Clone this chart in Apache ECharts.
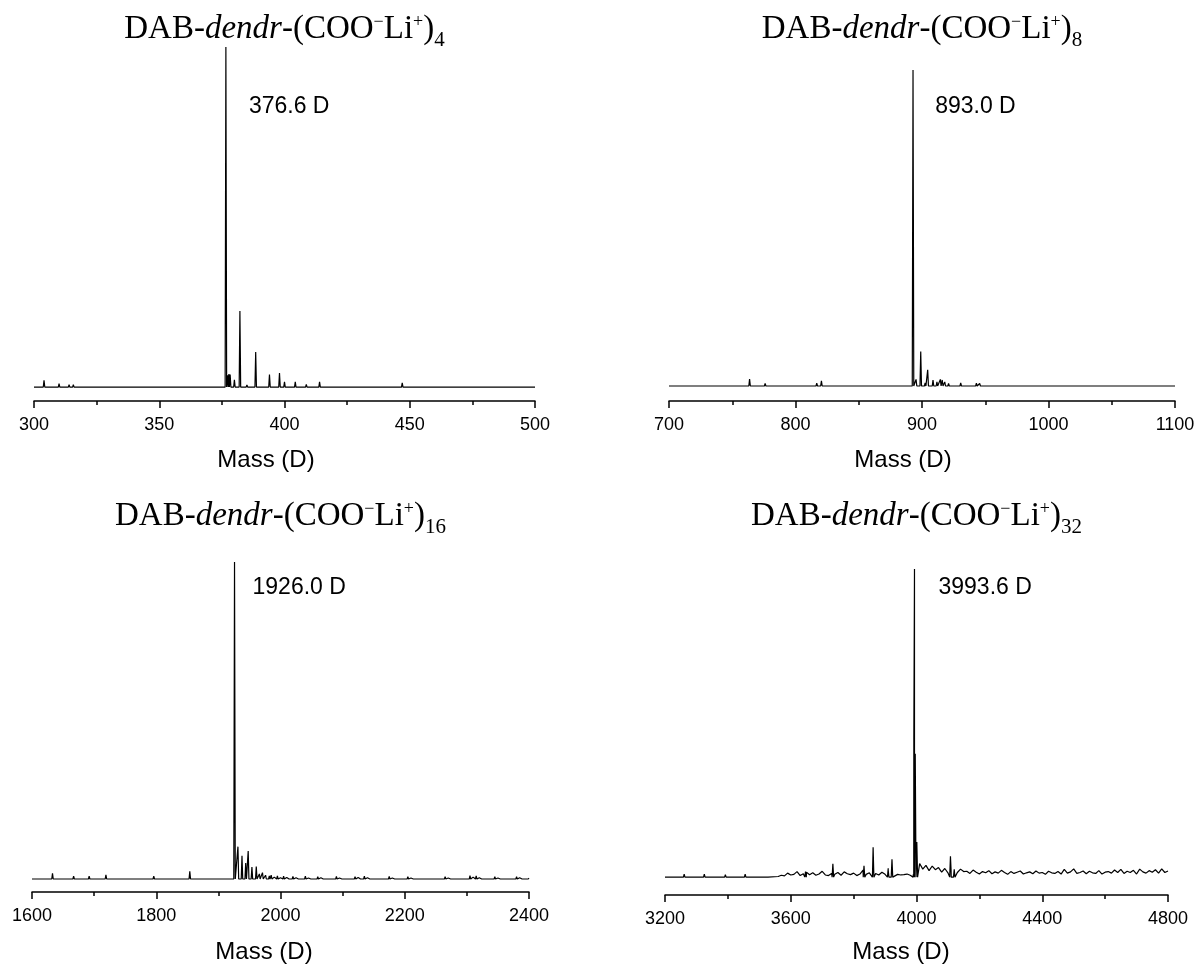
<!DOCTYPE html>
<html>
<head>
<meta charset="utf-8">
<script src="https://cdn.jsdelivr.net/npm/echarts@6/dist/echarts.min.js"></script>
<style>
html, body { margin: 0; padding: 0; background: #fff; }
#massSpectra { width: 1198px; height: 964px; }
</style>
</head>
<body>
<div id="massSpectra"></div>
<script>
// peaks, intensity in % of the base peak
const g4Mass = [304, 310, 314, 315.7, 320, 327, 336, 345, 352, 360, 366, 371, 376.6, 377.3, 377.8, 378.3, 380, 382.2, 385, 388.5, 391, 394, 398, 400, 404.3, 408.7, 410.3, 414, 420, 426, 432, 440, 447, 455, 465, 475, 490]
const g4Int = [2.0, 1.0, 0.7, 0.7, 0.5, 0.3, 0.3, 0.3, 0.4, 0.4, 0.3, 0.3, 100, 3.5, 3.8, 3.7, 2.1, 22.4, 0.6, 10.3, 0.4, 3.7, 4.1, 1.5, 1.5, 0.8, 0.5, 1.5, 0.4, 0.3, 0.4, 0.3, 1.2, 0.3, 0.3, 0.3, 0.3]

const g8Mass = [724, 740, 752, 763.7, 776, 790, 805, 816.8, 820.5, 835, 841, 860, 876, 889, 892.9, 895.3, 899, 902.5, 904.5, 908.7, 911.8, 914.5, 916, 918, 921, 930.6, 937, 943, 945.6, 960, 979, 1000, 1027, 1040, 1060, 1080, 1095]
const g8Int = [0.4, 0.3, 0.3, 2.2, 0.8, 0.3, 0.3, 0.9, 1.6, 0.4, 0.4, 0.3, 0.3, 0.3, 100, 2.1, 10.9, 1.0, 5.1, 1.9, 1.3, 2.1, 1.9, 1.3, 0.8, 1.0, 0.6, 0.9, 0.8, 0.3, 0.3, 0.3, 0.5, 0.4, 0.4, 0.4, 0.4]

const g16Mass = [1633, 1656, 1667, 1692, 1719, 1796, 1854, 1881, 1926, 1931.5, 1938, 1944, 1948, 1954, 1961, 1966, 1971, 1976, 1982]
const g16Int = [1.8, 0.5, 0.9, 0.9, 1.3, 0.9, 2.4, 0.3, 100, 10.2, 7.3, 5.0, 8.8, 3.8, 3.9, 1.6, 2.0, 1.2, 1.0]
// small baseline spikes, every 5 D from 1985 D
const g16NoiseStart = 1985
const g16NoiseStep = 5
const g16Noise = [
  1.2, 0.6, 1.0, 0.4,
  0.9, 0.5, 0.3, 0.8, 0.4, 0.2, 0.6, 0.9, 0.3, 0.5,
  0.2, 0.7, 0.4, 0.3, 0.6, 0.2, 0.5, 0.8, 0.3, 0.4,
  0.6, 0.2, 0.3, 0.7, 0.5, 0.2, 0.9, 0.4, 0.3, 0.6,
  0.3, 0.5, 0.2, 0.4, 0.8, 0.3, 0.2, 0.6, 0.4, 0.3,
  0.7, 0.3, 0.5, 0.2, 0.4, 0.6, 0.3, 0.2, 0.5, 0.3,
  0.4, 0.2, 0.7, 0.3, 0.5, 0.4, 0.2, 0.6, 0.3, 0.5,
  1.1, 0.6, 1.0, 0.4, 0.3, 0.6, 0.2, 0.5, 0.7, 0.3,
  0.4, 0.6, 0.2, 0.5, 0.3, 0.7, 0.4, 0.2, 0.6, 0.3
]

const g32Mass = [3261, 3325, 3392, 3455, 3530, 3647, 3734, 3833, 3862, 3910, 3922, 3991.5, 3993.6, 3996, 4001, 4108, 4120]
const g32Int = [1.0, 1.0, 0.8, 1.0, 0.4, 1.8, 4.3, 3.7, 9.7, 2.9, 5.8, 45, 100, 40, 11.4, 6.8, 2.5]
// baseline noise, every 10 D from 3560 D
const g32NoiseStart = 3560
const g32NoiseStep = 10
const g32Noise = [
  0.2, 0.6, 0.4, 1.3, 0.7, 0.9, 1.8, 0.5, 1.1, 1.6,
  0.8, 1.4, 0.6, 1.0, 1.9, 0.7, 0.5, 1.2, 0.9, 1.5,
  0.6, 1.7, 1.1, 0.8, 1.3, 0.5, 1.0, 2.3, 0.9, 1.4,
  0.8, 1.2, 0.7, 1.6, 0.9, 2.2, 1.0, 0.6, 0.9, 0.7,
  0.8, 1.0, 0.6, 0.9, 0.4, 4.4, 2.6, 3.8, 2.1, 3.6,
  2.4, 3.1, 1.6, 2.8, 1.4, 2.2, 2.9, 1.5, 2.6, 1.8,
  1.9, 1.2, 2.3, 1.6, 1.0, 1.8, 1.4, 2.1, 1.1, 1.7,
  1.3, 2.2, 1.5, 0.9, 1.8, 1.2, 1.6, 2.0, 1.0, 1.4,
  1.7, 1.1, 2.0, 1.3, 1.5, 0.9, 1.9, 1.4, 1.2, 1.8,
  1.0, 2.5, 1.3, 1.7, 2.7, 1.2, 1.5, 2.0, 1.1, 1.9,
  1.4, 1.2, 2.1, 1.0, 1.6, 1.8, 1.3, 2.3, 1.5, 2.5,
  1.2, 1.9, 1.5, 2.2, 1.0, 2.6, 1.7, 1.3, 2.1, 1.6,
  2.4, 1.3, 2.7, 1.5, 2.0
]

const subscripts = ['4', '8', '16', '32']
const baseMass = [376.6, 893.0, 1926.0, 3993.6]
const baseLabels = ['376.6 D', '893.0 D', '1926.0 D', '3993.6 D']
const axisName = 'Mass (D)'

// panel geometry
const panels = [
  { left: 34, width: 501, top: 47, height: 354, xMin: 300, xMax: 500, step: 50, yMin: -4.1, halfW: 0.3, titleY: 29, labelDx: 23, labelY: 107, massX: 266, massY: 460 },
  { left: 669, width: 506, top: 70, height: 331, xMin: 700, xMax: 1100, step: 100, yMin: -4.75, halfW: 0.6, titleY: 29, labelDx: 22, labelY: 107, massX: 903, massY: 460 },
  { left: 32, width: 497, top: 562, height: 330, xMin: 1600, xMax: 2400, step: 200, yMin: -4.1, halfW: 1.2, titleY: 516, labelDx: 18, labelY: 588, massX: 264, massY: 952 },
  { left: 665, width: 503, top: 569, height: 326, xMin: 3200, xMax: 4800, step: 400, yMin: -5.8, halfW: 2.4, titleY: 516, labelDx: 24, labelY: 588, massX: 901, massY: 952 }
]

// noise given as spikes sits on a flat baseline; otherwise it is a jagged raised floor
function buildSpectrum (mass, inten, noiseStart, noiseStep, noise, noiseAsSpikes, p) {
  let pts = [[p.xMin, 0]]
  let spike = (m, v) => pts.push([m - p.halfW, 0], [m, v], [m + p.halfW, 0])
  mass.forEach((m, i) => spike(m, inten[i]))
  noise.forEach((v, i) => {
    let m = noiseStart + i * noiseStep
    if (noiseAsSpikes) spike(m, v)
    else pts.push([m, v])
  })
  let lastNoise = noise.length ? noiseStart + (noise.length - 1) * noiseStep : -Infinity
  if (noiseAsSpikes || lastNoise < p.xMax) pts.push([p.xMax, 0])
  pts = pts.filter(d => d[0] >= p.xMin && d[0] <= p.xMax)
  pts.sort((a, b) => a[0] - b[0])
  return pts
}

const spectra = [
  buildSpectrum(g4Mass, g4Int, 0, 0, [], false, panels[0]),
  buildSpectrum(g8Mass, g8Int, 0, 0, [], false, panels[1]),
  buildSpectrum(g16Mass, g16Int, g16NoiseStart, g16NoiseStep, g16Noise, true, panels[2]),
  buildSpectrum(g32Mass, g32Int, g32NoiseStart, g32NoiseStep, g32Noise, false, panels[3])
]

const sansFont = '"Liberation Sans", Arial, sans-serif'
const serifFont = '"Liberation Serif", "Times New Roman", serif'

let option = {
  backgroundColor: '#fff',
  animation: false,
  grid: panels.map(p => ({ left: p.left, width: p.width, top: p.top, height: p.height })),
  xAxis: panels.map((p, i) => ({
    type: 'value',
    gridIndex: i,
    min: p.xMin,
    max: p.xMax,
    interval: p.step,
    axisLine: { onZero: false, lineStyle: { color: '#000', width: 1.5 } },
    axisTick: { length: 7, lineStyle: { color: '#000', width: 1.5 } },
    minorTick: { show: true, splitNumber: 2, length: 4, lineStyle: { color: '#000', width: 1.5 } },
    splitLine: { show: false },
    axisLabel: {
      color: '#000',
      fontSize: 18,
      fontFamily: sansFont,
      margin: 15,
      showMinLabel: true,
      showMaxLabel: true,
      formatter: v => String(v)
    }
  })),
  yAxis: panels.map((p, i) => ({
    type: 'value',
    gridIndex: i,
    min: p.yMin,
    max: 100,
    show: false
  })),
  series: spectra.map((d, i) => ({
    type: 'line',
    xAxisIndex: i,
    yAxisIndex: i,
    data: d,
    showSymbol: false,
    symbol: 'none',
    smooth: false,
    silent: true,
    lineStyle: { color: '#000', width: 1.2 }
  }))
}

let chart = echarts.init(document.getElementById('massSpectra'), null, { renderer: 'canvas' })
chart.setOption(option)

let graphics = []
panels.forEach((p, i) => {
  graphics.push({
    type: 'text',
    x: p.left + p.width / 2,
    y: p.titleY,
    style: {
      text: '{a|DAB-}{i|dendr}{a|-(COO}{sup|−}{a|Li}{sup|+}{a|)}{sub|' + subscripts[i] + '}',
      align: 'center',
      verticalAlign: 'middle',
      fill: '#000',
      rich: {
        a: { fontFamily: serifFont, fontSize: 33, lineHeight: 44, fill: '#000' },
        i: { fontFamily: serifFont, fontSize: 33, fontStyle: 'italic', lineHeight: 44, fill: '#000' },
        sup: { fontFamily: serifFont, fontSize: 18, verticalAlign: 'top', padding: [6, 0, 0, 0], fill: '#000' },
        sub: { fontFamily: serifFont, fontSize: 21, lineHeight: 22, verticalAlign: 'bottom', fill: '#000' }
      }
    }
  })
  let peakPx = chart.convertToPixel({ gridIndex: i }, [baseMass[i], 0])
  graphics.push({
    type: 'text',
    x: peakPx[0] + p.labelDx,
    y: p.labelY,
    style: { text: baseLabels[i], fontFamily: sansFont, fontSize: 23, fill: '#000', align: 'left', verticalAlign: 'middle' }
  })
  graphics.push({
    type: 'text',
    x: p.massX,
    y: p.massY,
    style: { text: axisName, fontFamily: sansFont, fontSize: 24, fill: '#000', align: 'center', verticalAlign: 'middle' }
  })
})
chart.setOption({ graphic: graphics })
</script>
</body>
</html>
